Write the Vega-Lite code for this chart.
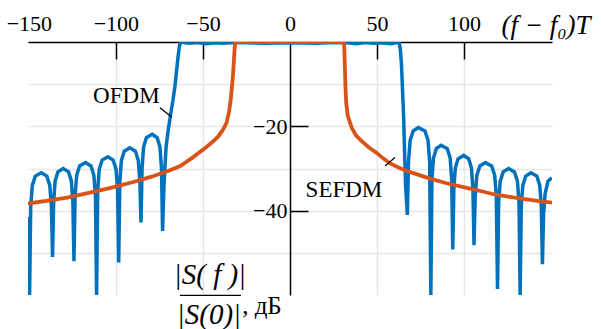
{
  "$schema": "https://vega.github.io/schema/vega-lite/v6.json",
  "width": 524,
  "height": 253,
  "autosize": "none",
  "padding": {"left": 28, "top": 42, "right": 49, "bottom": 34},
  "background": "white",
  "config": {"view": {"stroke": null}, "font": "Liberation Serif", "axis": {"labelFont": "Liberation Serif"}},
  "datasets": {
    "ofdm": [
      {"f": -150.5, "db": -41.5}, {"f": -149.6, "db": -60},
      {"f": -148.94, "db": -39}, {"f": -148.02, "db": -34}, {"f": -146.3, "db": -31.8}, {"f": -142.9, "db": -31}, {"f": -139.7, "db": -31.8}, {"f": -137.98, "db": -34}, {"f": -137.06, "db": -39},
      {"f": -136.4, "db": -51},
      {"f": -135.78, "db": -38}, {"f": -134.92, "db": -33}, {"f": -133.32, "db": -30.8}, {"f": -130.3, "db": -30}, {"f": -127.18, "db": -30.8}, {"f": -125.58, "db": -33}, {"f": -124.72, "db": -38},
      {"f": -124.1, "db": -52},
      {"f": -123.45, "db": -36.6}, {"f": -122.54, "db": -31.6}, {"f": -120.85, "db": -29.4}, {"f": -117.4, "db": -28.6}, {"f": -114.35, "db": -29.4}, {"f": -112.66, "db": -31.6}, {"f": -111.75, "db": -36.6},
      {"f": -111.1, "db": -60},
      {"f": -110.46, "db": -35.2}, {"f": -109.58, "db": -30.2}, {"f": -107.92, "db": -28}, {"f": -104.6, "db": -27.2}, {"f": -101.58, "db": -28}, {"f": -99.92, "db": -30.2}, {"f": -99.04, "db": -35.2},
      {"f": -98.4, "db": -52.3},
      {"f": -97.76, "db": -33.1}, {"f": -96.86, "db": -28.1}, {"f": -95.2, "db": -25.9}, {"f": -92.0, "db": -25.1}, {"f": -88.8, "db": -25.9}, {"f": -87.14, "db": -28.1}, {"f": -86.24, "db": -33.1},
      {"f": -85.6, "db": -42.8},
      {"f": -84.98, "db": -29.9}, {"f": -84.11, "db": -24.9}, {"f": -82.5, "db": -22.7}, {"f": -79.2, "db": -21.9}, {"f": -76.3, "db": -22.7}, {"f": -74.69, "db": -24.9}, {"f": -73.82, "db": -29.9},
      {"f": -73.2, "db": -44.8},
      {"f": -72.4, "db": -34}, {"f": -71.2, "db": -25}, {"f": -70.0, "db": -21}, {"f": -68.7, "db": -17.5},
      {"f": -67.3, "db": -14}, {"f": -66.1, "db": -10.5}, {"f": -65.2, "db": -7}, {"f": -64.3, "db": -3.5},
      {"f": -63.5, "db": -1}, {"f": -62.8, "db": 0},
      {"f": -58, "db": -0.3}, {"f": -53, "db": -0.1}, {"f": -48, "db": -0.4}, {"f": -43, "db": -0.2},
      {"f": -38, "db": -0.3}, {"f": -33, "db": -0.1}, {"f": -25, "db": -0.2}, {"f": -15, "db": -0.3},
      {"f": 0, "db": -0.2}, {"f": 15, "db": -0.3}, {"f": 25, "db": -0.1}, {"f": 33, "db": -0.2},
      {"f": 38, "db": -0.4}, {"f": 43, "db": -0.1}, {"f": 48, "db": -0.3}, {"f": 53, "db": -0.2},
      {"f": 58, "db": -0.4}, {"f": 62.6, "db": 0}, {"f": 63.3, "db": -1.5}, {"f": 64.0, "db": -5},
      {"f": 64.7, "db": -12}, {"f": 65.3, "db": -18}, {"f": 65.8, "db": -26}, {"f": 66.4, "db": -34},
      {"f": 67.4, "db": -41},
      {"f": 68.08, "db": -28.3}, {"f": 69.02, "db": -23.3}, {"f": 70.78, "db": -21.1}, {"f": 73.7, "db": -20.3}, {"f": 77.52, "db": -21.1}, {"f": 79.28, "db": -23.3}, {"f": 80.22, "db": -28.3},
      {"f": 80.9, "db": -60},
      {"f": 81.53, "db": -32.5}, {"f": 82.41, "db": -27.5}, {"f": 84.05, "db": -25.3}, {"f": 86.8, "db": -24.5}, {"f": 90.35, "db": -25.3}, {"f": 91.99, "db": -27.5}, {"f": 92.87, "db": -32.5},
      {"f": 93.5, "db": -49.2},
      {"f": 94.11, "db": -34.9}, {"f": 94.96, "db": -29.9}, {"f": 96.55, "db": -27.7}, {"f": 99.8, "db": -26.9}, {"f": 102.65, "db": -27.7}, {"f": 104.24, "db": -29.9}, {"f": 105.09, "db": -34.9},
      {"f": 105.7, "db": -48.2},
      {"f": 106.38, "db": -36.6}, {"f": 107.32, "db": -31.6}, {"f": 109.08, "db": -29.4}, {"f": 112.3, "db": -28.6}, {"f": 115.82, "db": -29.4}, {"f": 117.58, "db": -31.6}, {"f": 118.52, "db": -36.6},
      {"f": 119.2, "db": -58.6},
      {"f": 119.85, "db": -38}, {"f": 120.76, "db": -33}, {"f": 122.45, "db": -30.8}, {"f": 125.6, "db": -30}, {"f": 128.95, "db": -30.8}, {"f": 130.64, "db": -33}, {"f": 131.55, "db": -38},
      {"f": 132.2, "db": -60},
      {"f": 132.84, "db": -39}, {"f": 133.74, "db": -34}, {"f": 135.4, "db": -31.8}, {"f": 138.4, "db": -31}, {"f": 141.8, "db": -31.8}, {"f": 143.46, "db": -34}, {"f": 144.36, "db": -39},
      {"f": 145.0, "db": -52.7},
      {"f": 145.64, "db": -41}, {"f": 146.54, "db": -36}, {"f": 148.2, "db": -33}, {"f": 150.4, "db": -32.2}
    ],
    "sefdm": [
      {"f": -150.5, "db": -38.3}, {"f": -140, "db": -37.7}, {"f": -128, "db": -36.9}, {"f": -115, "db": -35.7},
      {"f": -103, "db": -34.6}, {"f": -90, "db": -33.2}, {"f": -80, "db": -32.0}, {"f": -70, "db": -30.6},
      {"f": -63, "db": -29.4}, {"f": -55.6, "db": -27.3}, {"f": -48, "db": -24.9}, {"f": -44, "db": -23.5},
      {"f": -41.2, "db": -22.4}, {"f": -38.5, "db": -20.8}, {"f": -36.4, "db": -19.1}, {"f": -35.0, "db": -16.5},
      {"f": -34.0, "db": -13.5}, {"f": -33.2, "db": -10}, {"f": -32.6, "db": -7}, {"f": -32.1, "db": -3.5},
      {"f": -31.7, "db": -1}, {"f": -31.4, "db": 0}, {"f": 0, "db": 0}, {"f": 31.0, "db": 0},
      {"f": 31.3, "db": -3}, {"f": 31.6, "db": -7}, {"f": 31.9, "db": -11}, {"f": 32.3, "db": -14.5},
      {"f": 33.2, "db": -17.5}, {"f": 35.4, "db": -20.3}, {"f": 38.0, "db": -22.2}, {"f": 41.2, "db": -23.5},
      {"f": 45.0, "db": -24.9}, {"f": 49.8, "db": -26.3}, {"f": 53.5, "db": -27.6}, {"f": 57.5, "db": -28.8},
      {"f": 62.0, "db": -29.7}, {"f": 67.1, "db": -30.6}, {"f": 73.0, "db": -31.4}, {"f": 80.5, "db": -32.4},
      {"f": 90.0, "db": -33.5}, {"f": 101.5, "db": -34.6}, {"f": 110.0, "db": -35.4}, {"f": 116.9, "db": -36.1},
      {"f": 126.0, "db": -36.7}, {"f": 136.0, "db": -37.3}, {"f": 144.0, "db": -37.8}, {"f": 150.5, "db": -38.1}
    ]
  },
  "encoding": {
    "x": {
      "field": "f", "type": "quantitative",
      "scale": {"domain": [-150.5, 150.5], "nice": false, "zero": false},
      "axis": {
        "orient": "top", "title": null,
        "values": [-150, -100, -50, 0, 50, 100],
        "domainColor": "black", "domainWidth": 1.5,
        "tickColor": "black", "tickWidth": 1.5, "tickSize": -17,
        "tickOpacity": {"condition": {"test": "datum.value === -150 || datum.value === 0", "value": 0}, "value": 1},
        "labelFont": "Liberation Serif", "labelFontSize": 22, "labelColor": "black",
        "labelPadding": 24, "labelFlush": false, "labelOverlap": false,
        "grid": true, "gridColor": "#e6e6e6", "gridWidth": 1.5,
        "gridOpacity": {"condition": {"test": "datum.value === -150 || datum.value === 0", "value": 0}, "value": 1}
      }
    },
    "y": {
      "field": "db", "type": "quantitative",
      "scale": {"domain": [-60, 0], "nice": false, "zero": false},
      "axis": {
        "orient": "left", "title": null, "offset": -262,
        "values": [-10, -20, -30, -40, -50],
        "domainColor": "black", "domainWidth": 1.5,
        "tickColor": "black", "tickWidth": 1.5, "tickSize": -18,
        "tickOpacity": {"condition": {"test": "datum.value % 20 !== 0", "value": 0}, "value": 1},
        "labelExpr": "datum.value % 20 === 0 ? datum.label : ''",
        "labelFont": "Liberation Serif", "labelFontSize": 22, "labelColor": "black",
        "labelPadding": 21, "labelOverlap": false,
        "grid": true, "gridColor": "#e6e6e6", "gridWidth": 1.5
      }
    }
  },
  "layer": [
    {"data": {"name": "ofdm"}, "mark": {"type": "line", "color": "#0072BD", "strokeWidth": 3.5, "clip": true}},
    {"data": {"name": "sefdm"}, "mark": {"type": "line", "color": "#D95319", "strokeWidth": 3.8, "clip": true}},
    {
      "data": {"values": [
        {"f": -74.7, "db": -15.6, "f2": -68, "db2": -17.8},
        {"f": 54.6, "db": -29.4, "f2": 60.3, "db2": -27.4}
      ]},
      "mark": {"type": "rule", "color": "black", "strokeWidth": 1.3},
      "encoding": {"x2": {"field": "f2"}, "y2": {"field": "db2"}}
    },
    {
      "data": {"values": [
        {"t": "OFDM", "f": -94, "db": -12.9},
        {"t": "SEFDM", "f": 31, "db": -35}
      ]},
      "mark": {"type": "text", "font": "Liberation Serif", "fontSize": 23, "align": "center", "baseline": "middle", "color": "black"},
      "encoding": {"text": {"field": "t"}}
    },
    {
      "data": {"values": [{"t": "(f − f₀)T", "f": 121.5, "db": 3.9}]},
      "mark": {"type": "text", "font": "Liberation Serif", "fontStyle": "italic", "fontSize": 27, "align": "left", "baseline": "middle", "color": "black"},
      "encoding": {"text": {"field": "t"}}
    },
    {
      "data": {"values": [
        {"t": "|S( f )|", "f": -46, "db": -55.3},
        {"t": "|S(0)|", "f": -46.6, "db": -64.8}
      ]},
      "mark": {"type": "text", "font": "Liberation Serif", "fontStyle": "italic", "fontSize": 29, "align": "center", "baseline": "middle", "color": "black"},
      "encoding": {"text": {"field": "t"}}
    },
    {
      "data": {"values": [{"f": -63.2, "f2": -28.2, "db": -60.1}]},
      "mark": {"type": "rule", "color": "black", "strokeWidth": 1.3},
      "encoding": {"x2": {"field": "f2"}}
    },
    {
      "data": {"values": [{"t": ", дБ", "f": -27.5, "db": -64.5}]},
      "mark": {"type": "text", "font": "Liberation Serif", "fontSize": 25, "align": "left", "baseline": "alphabetic", "color": "black"},
      "encoding": {"text": {"field": "t"}}
    }
  ]
}
